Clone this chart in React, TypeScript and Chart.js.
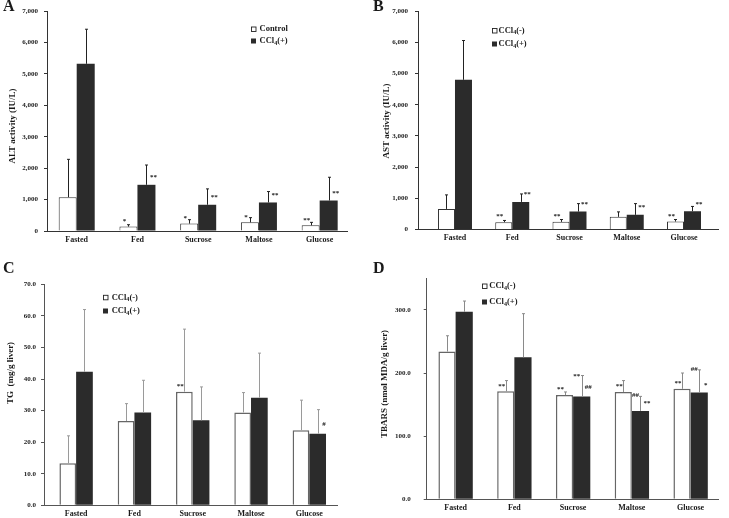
import React, { useEffect, useRef } from 'react';
import { Chart, registerables } from 'chart.js';

Chart.register(...registerables);

const W = 729;
const H = 518;
const SERIF = "'Liberation Serif', 'Times New Roman', Times, serif";
const DARK = '#2b2b2b';
const TEXT = '#1a1a1a';

const categories = ['Fasted', 'Fed', 'Sucrose', 'Maltose', 'Glucose'];

// A: serum ALT activity (IU/L), mean and SD
const altControl = [1075, 140, 235, 275, 180];
const altControlSd = [1205, 60, 125, 150, 95];
const altCcl4 = [5320, 1470, 835, 908, 970];
const altCcl4Sd = [1100, 630, 505, 347, 740];
const altControlMarks = ['', '*', '*', '*', '**'];
const altCcl4Marks = ['', '**', '**', '**', '**'];

// B: serum AST activity (IU/L)
const astControl = [660, 235, 245, 405, 255];
const astControlSd = [450, 55, 75, 160, 65];
const astCcl4 = [4800, 885, 575, 470, 585];
const astCcl4Sd = [1260, 255, 255, 360, 155];
const astControlMarks = ['', '**', '**', '', '**'];
const astCcl4Marks = ['', '**', '**', '**', '**'];

// C: liver TG (mg/g liver)
const tgControl = [13.3, 26.7, 36.0, 29.4, 23.8];
const tgControlSd = [8.7, 5.5, 19.8, 6.3, 9.5];
const tgCcl4 = [42.3, 29.4, 26.9, 34.1, 22.7];
const tgCcl4Sd = [19.7, 10.2, 10.6, 14.1, 7.6];
const tgControlMarks = ['', '', '**', '', ''];
const tgCcl4Marks = ['', '', '', '', '#'];

// D: liver TBARS (nmol MDA/g liver)
const tbarsControl = [234, 171, 165, 170, 175];
const tbarsControlSd = [25, 17, 5, 18, 25];
const tbarsCcl4 = [297, 225, 163, 140, 169];
const tbarsCcl4Sd = [17, 69, 33, 23, 36];
const tbarsControlMarks = ['', '**', '**', '**', '**'];
const tbarsCcl4TopMarks = ['', '', '**', '##', '##'];
const tbarsCcl4Marks = ['', '', '##', '**', '*'];

type Series = { label: string; values: number[]; sd: number[]; dark: boolean };
type PanelSpec = {
  letter: string;
  letterPos: [number, number];
  area: { l: number; t: number; r: number; b: number };
  xRange: [number, number];
  groupPct: number;
  yMax: number;
  yStep: number;
  yFmt: (v: number) => string;
  tickPad: number;
  yTitle: string;
  yTitlePos: [number, number];
  series: Series[];
  ctrlMarks: string[];
  sideMarks: string[];
  topMarks?: string[];
  legend: { x: number; textX: number; y: number; step: number };
  style: { axis: string; err: string; outline: string; outlineWidth: number };
};

const commaFmt = (v: number) => v.toLocaleString('en-US');
const oneDecimal = (v: number) => v.toFixed(1);

const panels: PanelSpec[] = [
  {
    letter: 'A',
    letterPos: [3, 10.5],
    area: { l: 47, t: 11, r: 347, b: 231 },
    xRange: [-0.489, 4.45],
    groupPct: 0.593,
    yMax: 7000,
    yStep: 1000,
    yFmt: commaFmt,
    tickPad: 6,
    yTitle: 'ALT activity (IU/L)',
    yTitlePos: [12.5, 126],
    series: [
      { label: 'Control', values: altControl, sd: altControlSd, dark: false },
      { label: 'CCl4(+)', values: altCcl4, sd: altCcl4Sd, dark: true },
    ],
    ctrlMarks: altControlMarks,
    sideMarks: altCcl4Marks,
    legend: { x: 251, textX: 259.5, y: 29, step: 12 },
    style: { axis: '#333', err: '#222', outline: '#333', outlineWidth: 1 },
  },
  {
    letter: 'B',
    letterPos: [373, 10.5],
    area: { l: 418, t: 11, r: 718, b: 229.5 },
    xRange: [-0.646, 4.594],
    groupPct: 0.594,
    yMax: 7000,
    yStep: 1000,
    yFmt: commaFmt,
    tickPad: 7,
    yTitle: 'AST activity (IU/L)',
    yTitlePos: [386.5, 121],
    series: [
      { label: 'CCl4(-)', values: astControl, sd: astControlSd, dark: false },
      { label: 'CCl4(+)', values: astCcl4, sd: astCcl4Sd, dark: true },
    ],
    ctrlMarks: astControlMarks,
    sideMarks: astCcl4Marks,
    legend: { x: 492, textX: 498.5, y: 30.5, step: 13.5 },
    style: { axis: '#333', err: '#222', outline: '#333', outlineWidth: 1 },
  },
  {
    letter: 'C',
    letterPos: [3, 273],
    area: { l: 44, t: 284.3, r: 337, b: 505.3 },
    xRange: [-0.551, 4.475],
    groupPct: 0.573,
    yMax: 70,
    yStep: 10,
    yFmt: oneDecimal,
    tickPad: 5,
    yTitle: 'TG  (mg/g liver)',
    yTitlePos: [11, 373],
    series: [
      { label: 'CCl4(-)', values: tgControl, sd: tgControlSd, dark: false },
      { label: 'CCl4(+)', values: tgCcl4, sd: tgCcl4Sd, dark: true },
    ],
    ctrlMarks: tgControlMarks,
    sideMarks: tgCcl4Marks,
    legend: { x: 103, textX: 111.7, y: 297.3, step: 13.7 },
    style: { axis: '#555', err: '#9a9a9a', outline: '#666', outlineWidth: 1.5 },
  },
  {
    letter: 'D',
    letterPos: [373, 273],
    area: { l: 426.7, t: 278.3, r: 718, b: 499.3 },
    xRange: [-0.492, 4.466],
    groupPct: 0.585,
    yMax: 350,
    yStep: 100,
    yFmt: oneDecimal,
    tickPad: 13,
    yTitle: 'TBARS (nmol MDA/g liver)',
    yTitlePos: [385, 384],
    series: [
      { label: 'CCl4(-)', values: tbarsControl, sd: tbarsControlSd, dark: false },
      { label: 'CCl4(+)', values: tbarsCcl4, sd: tbarsCcl4Sd, dark: true },
    ],
    ctrlMarks: tbarsControlMarks,
    sideMarks: tbarsCcl4Marks,
    topMarks: tbarsCcl4TopMarks,
    legend: { x: 482, textX: 489.3, y: 286, step: 16 },
    style: { axis: '#555', err: '#8a8a8a', outline: '#666', outlineWidth: 1.5 },
  },
];

// Writes a label such as "CCl4(-)" with the digit set as a subscript.
function drawChem(ctx: CanvasRenderingContext2D, text: string, x: number, y: number, size: number) {
  let cx = x;
  for (const ch of text) {
    const sub = /\d/.test(ch);
    ctx.font = `bold ${sub ? size * 0.72 : size}px ${SERIF}`;
    ctx.fillText(ch, cx, sub ? y + 2 : y);
    cx += ctx.measureText(ch).width;
  }
}

function buildChart(canvas: HTMLCanvasElement, p: PanelSpec) {
  const yWidth = 40;
  const xHeight = p.area.b > 400 ? 12 : 20;
  const padding = {
    left: p.area.l - yWidth,
    top: p.area.t,
    right: W - p.area.r,
    bottom: H - p.area.b - xHeight,
  };

  const datasets = p.series.map((s) => ({
    label: s.label,
    data: s.values.map((v, i) => ({ x: i, y: v })),
    backgroundColor: s.dark ? DARK : '#ffffff',
    borderColor: s.dark ? DARK : p.style.outline,
    borderWidth: s.dark ? 0 : p.style.outlineWidth,
    barPercentage: 1,
    categoryPercentage: p.groupPct,
  }));

  const lift = (t: string) => (t.includes('*') ? 1.5 : 0);

  const overlay = {
    id: 'overlay',
    afterDatasetsDraw(chart: any) {
      const ctx: CanvasRenderingContext2D = chart.ctx;
      const ys = chart.scales.y;
      ctx.save();
      // one-sided SD bars
      ctx.lineWidth = 1;
      ctx.strokeStyle = p.style.err;
      p.series.forEach((s, di) => {
        chart.getDatasetMeta(di).data.forEach((bar: any, j: number) => {
          const x = Math.round(bar.x) + 0.5;
          const top = ys.getPixelForValue(s.values[j] + s.sd[j]);
          ctx.beginPath();
          ctx.moveTo(x, bar.y);
          ctx.lineTo(x, top);
          ctx.moveTo(x - 1.5, top);
          ctx.lineTo(x + 1.5, top);
          ctx.stroke();
        });
      });
      // significance marks
      ctx.fillStyle = TEXT;
      ctx.font = `bold 7px ${SERIF}`;
      ctx.textAlign = 'center';
      ctx.textBaseline = 'middle';
      const ctrlBars = chart.getDatasetMeta(0).data;
      const ccBars = chart.getDatasetMeta(1).data;
      p.ctrlMarks.forEach((t, j) => {
        if (!t) return;
        const b = ctrlBars[j];
        ctx.fillText(t, b.x - 4, b.y - 7 + lift(t));
      });
      p.sideMarks.forEach((t, j) => {
        if (!t) return;
        const b = ccBars[j];
        ctx.fillText(t, b.x + b.width / 2 - 2, b.y - 9 + lift(t));
      });
      (p.topMarks || []).forEach((t, j) => {
        if (!t) return;
        const b = ccBars[j];
        const s = p.series[1];
        const top = ys.getPixelForValue(s.values[j] + s.sd[j]);
        ctx.fillText(t, b.x - 5, top - 1 + lift(t));
      });
      ctx.restore();
    },
    afterDraw(chart: any) {
      const ctx: CanvasRenderingContext2D = chart.ctx;
      ctx.save();
      ctx.fillStyle = TEXT;
      // panel letter
      ctx.font = `bold 16px ${SERIF}`;
      ctx.textAlign = 'left';
      ctx.textBaseline = 'alphabetic';
      ctx.fillText(p.letter, p.letterPos[0], p.letterPos[1]);
      // y-axis title
      ctx.save();
      ctx.translate(p.yTitlePos[0], p.yTitlePos[1]);
      ctx.rotate(-Math.PI / 2);
      ctx.font = `bold 9px ${SERIF}`;
      ctx.textAlign = 'center';
      ctx.textBaseline = 'middle';
      ctx.fillText(p.yTitle, 0, 0);
      ctx.restore();
      // legend
      ctx.textAlign = 'left';
      ctx.textBaseline = 'middle';
      p.series.forEach((s, i) => {
        const yy = p.legend.y + i * p.legend.step;
        if (s.dark) {
          ctx.fillStyle = DARK;
          ctx.fillRect(p.legend.x, yy - 2.5, 5, 5);
        } else {
          ctx.strokeStyle = '#222';
          ctx.lineWidth = 0.9;
          ctx.strokeRect(p.legend.x + 0.5, yy - 2, 4.5, 4.5);
        }
        ctx.fillStyle = TEXT;
        drawChem(ctx, s.label, p.legend.textX, yy, 8.5);
      });
      ctx.restore();
    },
  };

  return new Chart(canvas, {
    type: 'bar',
    data: { datasets } as any,
    options: {
      animation: false,
      responsive: false,
      events: [],
      layout: { padding },
      plugins: { legend: { display: false }, tooltip: { enabled: false } },
      scales: {
        x: {
          type: 'linear',
          min: p.xRange[0],
          max: p.xRange[1],
          offset: false,
          ticks: {
            stepSize: 1,
            includeBounds: false,
            autoSkip: false,
            maxRotation: 0,
            minRotation: 0,
            padding: 4,
            color: TEXT,
            font: { family: SERIF, size: 8, weight: 'bold' },
            callback: (v: any) => (Number.isInteger(v) ? categories[v] ?? '' : ''),
          },
          grid: { display: false, drawTicks: false, offset: false },
          border: { display: true, color: p.style.axis, width: 1 },
          afterFit: (s: any) => {
            s.height = xHeight;
          },
        },
        y: {
          min: 0,
          max: p.yMax,
          ticks: {
            stepSize: p.yStep,
            includeBounds: false,
            padding: p.tickPad,
            color: TEXT,
            font: { family: SERIF, size: 7, weight: 'bold' },
            callback: (v: any) => p.yFmt(Number(v)),
          },
          grid: { drawOnChartArea: false, tickLength: 3, color: p.style.axis },
          border: { display: true, color: p.style.axis, width: 1 },
          afterFit: (s: any) => {
            s.width = yWidth;
          },
        },
      },
    } as any,
    plugins: [overlay],
  });
}

function PanelCanvas({ spec }: { spec: PanelSpec }) {
  const ref = useRef<HTMLCanvasElement>(null);
  useEffect(() => {
    if (!ref.current) return;
    const chart = buildChart(ref.current, spec);
    return () => chart.destroy();
  }, [spec]);
  return (
    <canvas
      ref={ref}
      width={W}
      height={H}
      style={{ position: 'absolute', left: 0, top: 0, width: W, height: H }}
    />
  );
}

export default function App() {
  useEffect(() => {
    document.body.style.margin = '0';
    document.body.style.background = '#ffffff';
  }, []);
  return (
    <div style={{ position: 'relative', width: W, height: H, background: '#ffffff', overflow: 'hidden' }}>
      {panels.map((p) => (
        <PanelCanvas key={p.letter} spec={p} />
      ))}
    </div>
  );
}
